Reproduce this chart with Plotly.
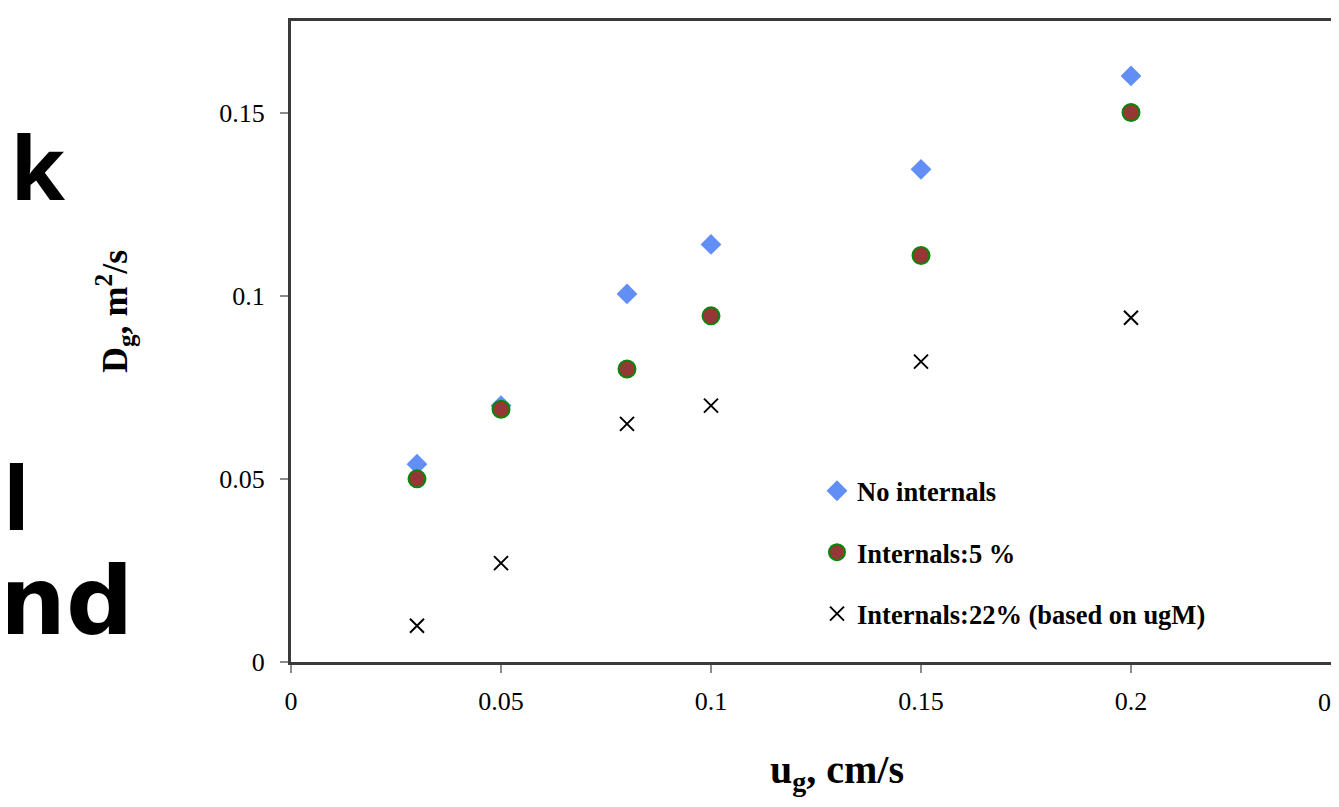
import plotly.graph_objects as go

# ---- data ----
ug = [0.03, 0.05, 0.08, 0.10, 0.15, 0.20]
dg_no_internals = [0.054, 0.070, 0.1005, 0.114, 0.1345, 0.160]
dg_internals_5 = [0.050, 0.069, 0.080, 0.0945, 0.111, 0.150]
dg_internals_22 = [0.0099, 0.027, 0.065, 0.070, 0.082, 0.094]

x_ticks = [0, 0.05, 0.1, 0.15, 0.2]
x_tick_text = ["0", "0.05", "0.1", "0.15", "0.2"]
y_ticks = [0, 0.05, 0.1, 0.15]
y_tick_text = ["0", "0.05", "0.1", "0.15"]
x_clipped_tick = 0.25
x_clipped_text = "0.25"

names = ["No internals", "Internals:5 %", "Internals:22% (based on ugM)"]

# ---- layout geometry ----
# the page body has an 8px margin, so the figure starts at (8, 8) on screen
OFF = 8
W, H = 1339 - OFF, 807 - 2 * OFF
PLOT_L, PLOT_T, PLOT_B = 291, 21, 662          # screen pixels
X_AT_RIGHT = 1341                               # screen pixel of x = 0.25
ML = PLOT_L - OFF
MT = PLOT_T - OFF
MB = H - (PLOT_B - OFF)
MR = 0
PW = W - ML - MR
PH = H - MT - MB
PLOT_R = OFF + W - MR


def sx(p):
    """screen x pixel -> paper x"""
    return (p - OFF - ML) / PW


def sy(p):
    """screen y pixel -> paper y"""
    return (H - MB - (p - OFF)) / PH


SERIF = "Liberation Serif, Times New Roman, serif"
SANS = "Open Sans, DejaVu Sans, sans-serif"
WIDE_SANS = "DejaVu Sans, Verdana, sans-serif"

fig = go.Figure()

fig.add_trace(go.Scatter(
    x=ug, y=dg_no_internals, mode="markers", name=names[0], legendgroup="a",
    marker=dict(symbol="diamond", size=16, color="#618FF5", line=dict(width=0)),
))
fig.add_trace(go.Scatter(
    x=ug, y=dg_internals_5, mode="markers", name=names[1], legendgroup="b",
    marker=dict(symbol="circle", size=17, color="#953735",
                line=dict(width=2, color="#0B860B")),
))
fig.add_trace(go.Scatter(
    x=ug, y=dg_internals_22, mode="markers", name=names[2], legendgroup="c",
    marker=dict(symbol="x-thin", size=14, color="black",
                line=dict(width=2, color="black")),
))

x_end = x_clipped_tick * (PLOT_R - PLOT_L) / (X_AT_RIGHT - PLOT_L)

fig.update_xaxes(
    range=[0, x_end], tickvals=x_ticks, ticktext=x_tick_text,
    showgrid=False, zeroline=False, automargin=False,
    showline=True, linecolor="#3a3a3a", linewidth=3, mirror=True,
    ticks="outside", ticklen=8, tickwidth=2, tickcolor="#8c8c8c",
    tickfont=dict(family=SERIF, size=26, color="black"),
    ticklabelstandoff=6,
)
fig.update_yaxes(
    range=[0, 0.175], tickvals=y_ticks, ticktext=y_tick_text,
    showgrid=False, zeroline=False, automargin=False,
    showline=True, linecolor="#3a3a3a", linewidth=3, mirror=False,
    ticks="outside", ticklen=8, tickwidth=2, tickcolor="#8c8c8c",
    tickfont=dict(family=SERIF, size=26, color="black"),
    ticklabelstandoff=10,
)

annotations = [
    # last x tick label, partly outside the window
    dict(x=sx(X_AT_RIGHT), xref="paper", y=sy(686), yref="paper",
         text=x_clipped_text, showarrow=False, xanchor="center", yanchor="top",
         font=dict(family=SERIF, size=26, color="black")),
    # axis titles
    dict(x=sx(837), y=sy(772), xref="paper", yref="paper",
         text="<b>u<sub>g</sub>, cm/s</b>", showarrow=False,
         xanchor="center", yanchor="middle",
         font=dict(family=SERIF, size=40, color="black")),
    dict(x=sx(115), y=sy(312), xref="paper", yref="paper",
         text="<b>D<sub>g</sub>, m<sup>2</sup>/s</b>", showarrow=False,
         textangle=-90, xanchor="center", yanchor="middle",
         font=dict(family=SERIF, size=36, color="black")),
    # remnants of slide text on the left
    dict(x=sx(67), y=sy(166), xref="paper", yref="paper",
         text="<b>ok</b>", showarrow=False, xanchor="right", yanchor="middle",
         font=dict(family=SANS, size=88, color="black")),
    dict(x=sx(1), y=sy(496), xref="paper", yref="paper",
         text="<b>l</b>", showarrow=False, xanchor="left", yanchor="middle",
         font=dict(family=SANS, size=88, color="black")),
    dict(x=sx(135), y=sy(601), xref="paper", yref="paper",
         text="<b>nd</b>", showarrow=False, xanchor="right", yanchor="middle",
         font=dict(family=WIDE_SANS, size=94, color="black")),
]

fig.update_layout(
    width=W, height=H,
    margin=dict(l=ML, r=MR, t=MT, b=MB, pad=0, autoexpand=False),
    paper_bgcolor="white", plot_bgcolor="white",
    showlegend=True,
    legend=dict(
        x=sx(817), y=sy(467), xanchor="left", yanchor="top",
        bgcolor="rgba(0,0,0,0)", borderwidth=0,
        font=dict(family=SERIF, size=26.5, color="black", weight="bold"),
        tracegroupgap=24, itemwidth=30,
    ),
    annotations=annotations,
)

fig.write_html("out.html")
